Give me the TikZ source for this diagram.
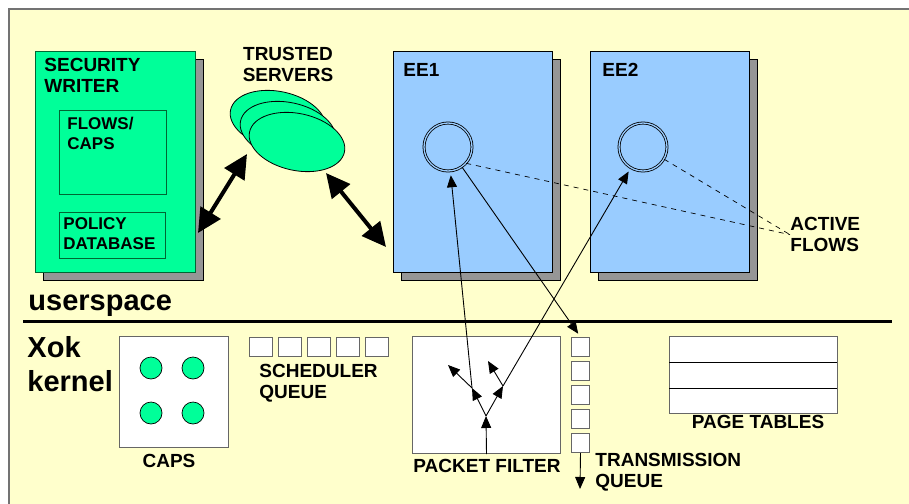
\documentclass[tikz,border=0pt]{standalone}
\usepackage{fontspec}
\setmainfont{Liberation Sans}
\usetikzlibrary{arrows.meta}
\usetikzlibrary{shapes.geometric}
\usetikzlibrary{shadows}

\definecolor{paper}{RGB}{255,255,204}
\definecolor{mint}{RGB}{0,255,153}
\definecolor{mintedge}{RGB}{0,102,51}
\definecolor{sky}{RGB}{153,204,255}
\definecolor{shade}{RGB}{150,150,150}

\tikzset{
  txt/.style={font=\fontsize{19}{21}\selectfont\bfseries, inner sep=0pt, align=left},
  smalltxt/.style={font=\fontsize{17}{20}\selectfont\bfseries, inner sep=0pt, align=left},
  bigtxt/.style={font=\fontsize{29}{34}\selectfont\bfseries, inner sep=0pt, align=left},
  pane/.style={draw=black, line width=1, anchor=north west, inner sep=0pt,
    minimum width=160, minimum height=221,
    drop shadow={shadow xshift=8pt, shadow yshift=-8pt, fill=shade, draw=black, opacity=1}},
  inbox/.style={draw=mintedge, line width=1, anchor=north west, inner sep=0pt},
  kbox/.style={draw=black!60, fill=white, line width=1, anchor=north west, inner sep=0pt},
  server/.style={ellipse, draw=black, line width=0.8, fill=mint,
    minimum width=97, minimum height=57, rotate=-12},
  flow/.style={circle, draw=black, line width=0.8, double=sky, double distance=1.3,
    minimum size=48, inner sep=0pt},
  dot/.style={circle, draw=black, line width=0.7, fill=mint, minimum size=22, inner sep=0pt},
  fat/.style={>={Triangle[length=24pt,width=23pt]}, <->, line width=4},
  flowline/.style={dash pattern=on 5pt off 5pt, line width=0.7},
}

\begin{document}
\begin{tikzpicture}[x=1pt, y=-1pt, line width=0.9, >={Triangle[length=12pt,width=10pt]}]
\useasboundingbox (0,0) rectangle (909,503);
% sheet
\draw[draw=black!55, line width=2, fill=paper] (9,9) rectangle (940,540);

% security writer
\node[pane, fill=mint, draw=mintedge] (writer) at (35,51) {};
\node[txt, anchor=north west] (writerlbl) at (44,58) {SECURITY\\WRITER};
\node[inbox, minimum width=107, minimum height=84] (flows) at (59,110) {};
\node[smalltxt, anchor=north west] (flowslbl) at (67,117) {FLOWS/\\CAPS};
\node[inbox, minimum width=106, minimum height=46] (policy) at (59,212) {};
\node[smalltxt, anchor=north west] (policylbl) at (63,217) {POLICY\\DATABASE};

% trusted servers
\node[txt, align=center, anchor=north] (trustlbl) at (288,47) {TRUSTED\\SERVERS};
\node[server] (srv1) at (278,120) {};
\node[server] (srv2) at (288,131) {};
\node[server] (srv3) at (297,142) {};

% execution environments
\node[pane, fill=sky, minimum width=159] (ee1) at (393,51) {};
\node[pane, fill=sky, minimum width=159] (ee2) at (590,51) {};
\node[txt, anchor=north west] (ee1lbl) at (403,63) {EE1};
\node[txt, anchor=north west] (ee2lbl) at (602,63) {EE2};
\node[flow] (f1) at (448,147) {};
\node[flow] (f2) at (643,147) {};
\node[txt, anchor=north west] (active) at (790,217) {ACTIVE\\FLOWS};
\draw[flowline] (f1.-42) -- (active.west);
\draw[flowline] (f2.-30) -- (active.west);

% thick links
\coordinate (wrpt) at (198,233);
\coordinate (srvlo) at (247,154);
\coordinate (srvhi) at (326,173);
\coordinate (eept) at (386,247);
\draw[fat] (wrpt) -- (srvlo);
\draw[fat] (srvhi) -- (eept);

% user/kernel boundary
\draw[line width=3] (23,321) -- (892,321);
\node[bigtxt, anchor=base west] (userlbl) at (28,310) {userspace};
\node[bigtxt, anchor=north west] (kernlbl) at (27,336) {Xok\\kernel};

% caps
\node[kbox, minimum width=109, minimum height=111] (caps) at (119,336) {};
\foreach \cx in {151,193}
  \foreach \cy in {368,413}
    \node[dot] (cap-\cx-\cy) at (\cx,\cy) {};
\node[txt, anchor=north] (capslbl) at (169,454) {CAPS};

% scheduler queue
\foreach \i in {1,...,5}
  \node[kbox, minimum width=23, minimum height=19] (sq\i) at (220+29*\i,337) {};
\node[txt, anchor=north west] (schedlbl) at (259,364) {SCHEDULER\\QUEUE};

% packet filter
\node[kbox, minimum width=148, minimum height=117] (pf) at (412,336) {};
\coordinate (fork) at (486,416);
\coordinate (pfl) at (472,388);
\coordinate (pfr) at (503,386);
\coordinate (pfl2) at (448,365);
\coordinate (pfr2) at (488,361);
\draw[->] (pf.south) -- (fork);
\draw[->] (fork) -- (pfl);
\draw[->] (fork) -- (pfr);
\draw[->] (pfl) -- (pfl2);
\draw[->] (pfr) -- (pfr2);
\draw[->, shorten >=4] (pfl) -- (f1);
\draw[->, shorten >=4] (pfr) -- (f2);
\node[txt, anchor=north] (pflbl) at (487,459) {PACKET FILTER};

% transmission queue
\foreach \i in {1,...,5}
  \node[kbox, minimum width=18, minimum height=19] (tq\i) at (571,313+24*\i) {};
\coordinate (txout) at (580,489);
\draw[->] (tq5.south) -- (txout);
\draw[->, shorten >=4] (f1) -- (tq1.north);
\node[txt, anchor=north west] (txlbl) at (595,453) {TRANSMISSION\\QUEUE};

% page tables
\node[kbox, minimum width=168, minimum height=77] (pt) at (669,336) {};
\foreach \ry in {362,388}
  \draw[line width=1] (669,\ry) -- (837,\ry);
\node[txt, anchor=north] (ptlbl) at (758,415) {PAGE TABLES};
\end{tikzpicture}
\end{document}
